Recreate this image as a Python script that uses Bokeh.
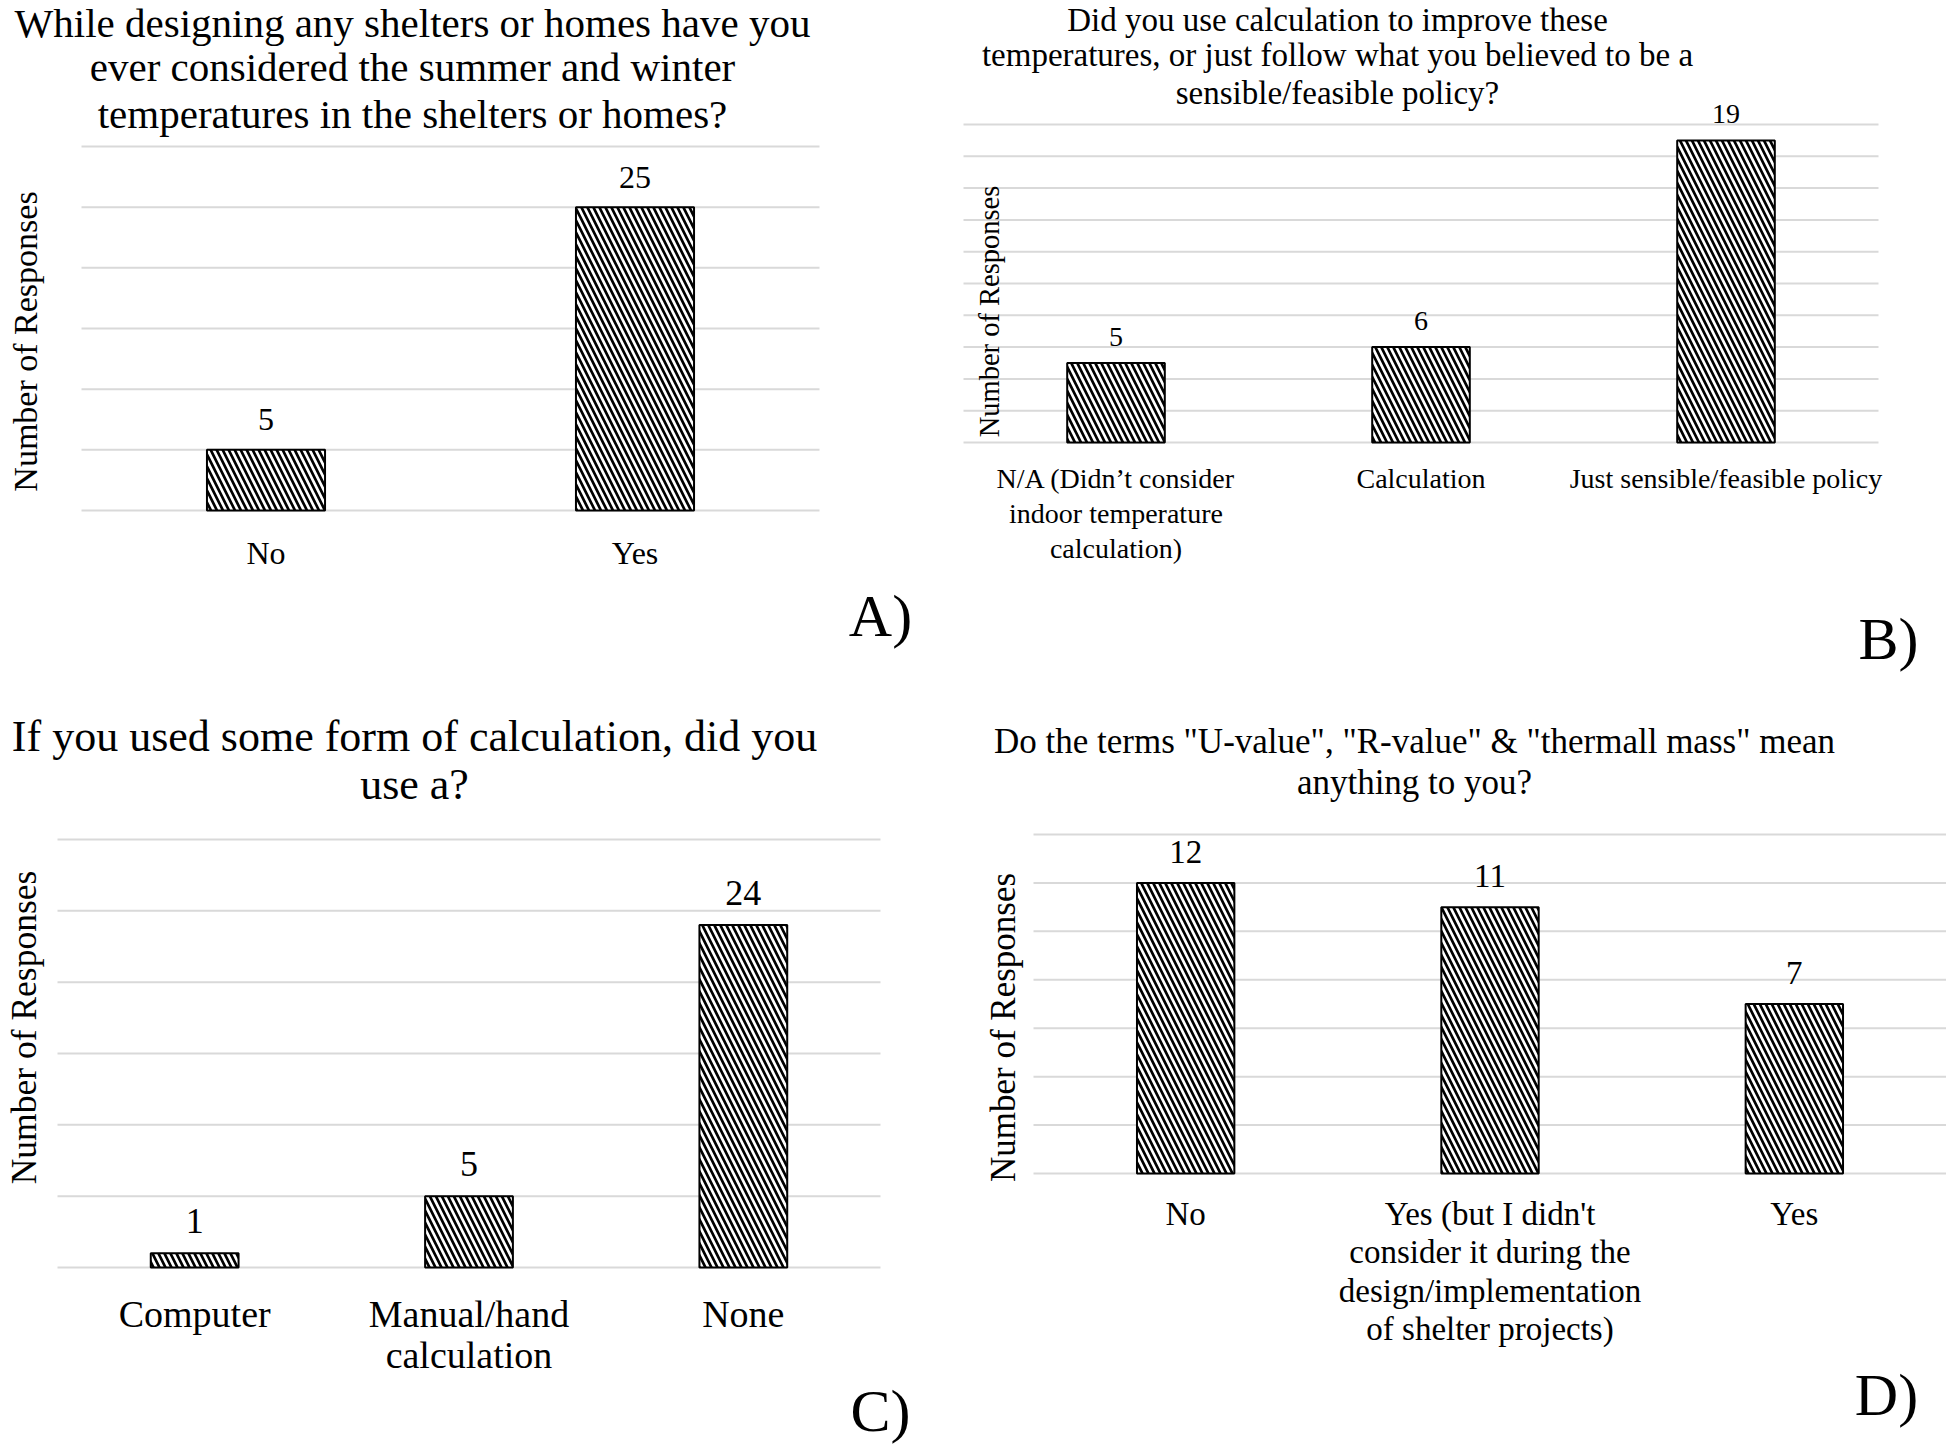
from math import pi
from bokeh.plotting import figure
from bokeh.models import ColumnDataSource, Range1d, Label, LabelSet
from bokeh.layouts import column, row
from bokeh.core.properties import value
from bokeh.embed import file_html
from bokeh.resources import INLINE

FONT = "Liberation Serif"

# ---------------- data ----------------
y_label = "Number of Responses"

a_title = ["While designing any shelters or homes have you",
           "ever considered the summer and winter",
           "temperatures in the shelters or homes?"]
a_categories = ["No", "Yes"]
a_values = [5, 25]
a_ticks = [0, 5, 10, 15, 20, 25, 30]
a_letter = "A)"

b_title = ["Did you use calculation to improve these",
           "temperatures, or just follow what you believed to be a",
           "sensible/feasible policy?"]
b_categories = ["N/A (Didn\u2019t consider\nindoor temperature\ncalculation)",
                "Calculation", "Just sensible/feasible policy"]
b_values = [5, 6, 19]
b_ticks = [0, 2, 4, 6, 8, 10, 12, 14, 16, 18, 20]
b_letter = "B)"

c_title = ["If you used some form of calculation, did you", "use a?"]
c_categories = ["Computer", "Manual/hand\ncalculation", "None"]
c_values = [1, 5, 24]
c_ticks = [0, 5, 10, 15, 20, 25, 30]
c_letter = "C)"

d_title = ['Do the terms "U-value", "R-value" & "thermall mass" mean',
           "anything to you?"]
d_categories = ["No",
                "Yes (but I didn't\nconsider it during the\ndesign/implementation\nof shelter projects)",
                "Yes"]
d_values = [12, 11, 7]
d_ticks = [0, 2, 4, 6, 8, 10, 12, 14]
d_letter = "D)"

# ---------------- layout / style (page pixel coordinates) ----------------
spec_a = dict(canvas=(0, 0, 952, 692), frame=(81, 146, 819, 510),
              title_fs=41, title_x=412, title_y=[22, 66, 113],
              ylab_fs=34, ylab=(25, 341), val_fs=32, val_off=30,
              cat_fs=32, cat_center=42, cat_step=40, letter=(880, 615))
spec_b = dict(canvas=(952, 0, 994, 692), frame=(963, 124, 1878, 442),
              title_fs=33, title_x=1337, title_y=[19, 54, 92],
              ylab_fs=28.5, ylab=(989, 311), val_fs=28, val_off=26,
              cat_fs=28, cat_center=36, cat_step=35, letter=(1888, 638))
spec_c = dict(canvas=(0, 692, 952, 755), frame=(57, 839, 880, 1267),
              title_fs=44, title_x=414, title_y=[736, 784],
              ylab_fs=35.5, ylab=(23, 1027), val_fs=36, val_off=32,
              cat_fs=38, cat_center=46, cat_step=41, letter=(880, 1410))
spec_d = dict(canvas=(952, 692, 994, 755), frame=(1033, 834, 1946, 1173),
              title_fs=35, title_x=1414, title_y=[741, 782],
              ylab_fs=35, ylab=(1003, 1027), val_fs=33, val_off=31,
              cat_fs=33, cat_center=40, cat_step=38.5, letter=(1886, 1394))


def make_panel(title_lines, cats, vals, ticks, letter, s):
    cx, cy, cw, ch = s["canvas"]
    fl, ft, fr, fb = s["frame"]
    n = len(cats)
    top = ticks[-1]
    u = (fr - fl) / n          # pixels per category slot
    v = (fb - ft) / top        # pixels per response
    x_range = Range1d(-(fl - cx) / u, n + (cx + cw - fr) / u)
    y_range = Range1d(-(cy + ch - fb) / v, top + (ft - cy) / v)
    p = figure(width=cw, height=ch, x_range=x_range, y_range=y_range, min_border=0,
               x_axis_location=None, y_axis_location=None,
               toolbar_location=None, output_backend="svg")
    p.outline_line_color = None
    p.background_fill_color = "white"
    p.border_fill_color = "white"
    p.grid.visible = False

    xs = [i + 0.5 for i in range(n)]

    # horizontal gridlines across the category area
    gsrc = ColumnDataSource(dict(x0=[0] * len(ticks), x1=[n] * len(ticks), y=ticks))
    p.segment(x0="x0", y0="y", x1="x1", y1="y", source=gsrc,
              line_color="#d9d9d9", line_width=2)

    src = ColumnDataSource(dict(x=xs, val=vals, label=[str(v_) for v_ in vals]))
    p.vbar(x="x", top="val", bottom=0, width=0.32, source=src,
           fill_color="white", line_color="black", line_width=2,
           hatch_pattern="\\", hatch_color="black", hatch_scale=12, hatch_weight=2.7)

    # value labels above the bars
    p.add_layout(LabelSet(x="x", y="val", text="label", source=src,
                          y_offset=s["val_off"], text_align="center", text_baseline="middle",
                          text_font=value(FONT), text_font_size=value(f'{s["val_fs"]}px'),
                          text_color="black"))

    # category labels below the baseline, one centred entry per line
    lx, ly, lt, lo = [], [], [], []
    for xi, cat in zip(xs, cats):
        for k, line in enumerate(cat.split("\n")):
            lx.append(xi)
            ly.append(0)
            lt.append(line)
            lo.append(-(s["cat_center"] + k * s["cat_step"]))
    csrc = ColumnDataSource(dict(x=lx, y=ly, text=lt, off=lo))
    p.add_layout(LabelSet(x="x", y="y", text="text", y_offset="off", source=csrc,
                          text_align="center", text_baseline="middle",
                          text_font=value(FONT), text_font_size=value(f'{s["cat_fs"]}px'),
                          text_color="black"))

    def lab(text, px, py, fs, angle=0.0):
        p.add_layout(Label(x=px - cx, y=cy + ch - py, x_units="screen", y_units="screen",
                           text=text, angle=angle, text_align="center", text_baseline="middle",
                           text_font=FONT, text_font_size=f"{fs}px", text_color="black"))

    for line, ty in zip(title_lines, s["title_y"]):
        lab(line, s["title_x"], ty, s["title_fs"])
    lab(y_label, s["ylab"][0], s["ylab"][1], s["ylab_fs"], angle=pi / 2)
    lab(letter, s["letter"][0], s["letter"][1], 60)
    return p


pa = make_panel(a_title, a_categories, a_values, a_ticks, a_letter, spec_a)
pb = make_panel(b_title, b_categories, b_values, b_ticks, b_letter, spec_b)
pc = make_panel(c_title, c_categories, c_values, c_ticks, c_letter, spec_c)
pd = make_panel(d_title, d_categories, d_values, d_ticks, d_letter, spec_d)

layout = column(row(pa, pb), row(pc, pd))
open("out.html", "w").write(file_html(layout, INLINE, title="Survey responses"))
